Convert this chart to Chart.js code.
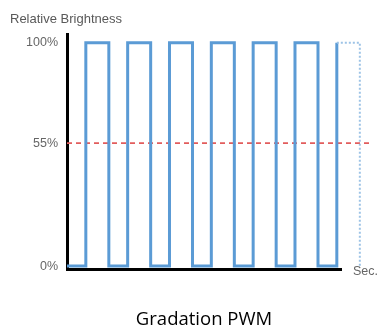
<!DOCTYPE html>
<html>
<head>
<meta charset="utf-8">
<script src="https://cdn.jsdelivr.net/npm/chart.js@4.4.1/dist/chart.umd.min.js"></script>
<style>
  html, body { margin: 0; padding: 0; background: #ffffff; }
  #wrap { width: 380px; height: 331px; }
</style>
</head>
<body>
<div id="wrap"><canvas id="c" width="380" height="331"></canvas></div>
<script>
// ---- data ----
const chartTitle = 'Relative Brightness';
const xAxisTitle = 'Gradation PWM';
const xUnitLabel = 'Sec.';
// edge times of the PWM signal (one period = 1 unit) and the level that starts at each edge
const edgeTimes  = [0, 0.45, 1, 1.45, 2, 2.45, 3, 3.45, 4, 4.45, 5, 5.45, 6, 6.45, 7];
const edgeLevels = [0, 100,  0, 100,  0, 100,  0, 100,  0, 100,  0, 100,  0, 100,  0];
// average brightness reference line
const averageTimes  = [0, 7.31];
const averageLevels = [55, 55];
// y-axis tick labels
const yTickValues = [0, 55, 100];

const pwmPoints = edgeTimes.map((t, i) => ({ x: t, y: edgeLevels[i] }));
const avgPoints = averageTimes.map((t, i) => ({ x: t, y: averageLevels[i] }));
const lastIndex = pwmPoints.length - 1;

const unitLabelPlugin = {
  id: 'unitLabel',
  afterDraw(chart) {
    const { ctx, chartArea } = chart;
    ctx.save();
    ctx.font = '12.5px "Liberation Sans", Arial, sans-serif';
    ctx.fillStyle = '#666666';
    ctx.textAlign = 'left';
    ctx.textBaseline = 'middle';
    ctx.fillText(xUnitLabel, chartArea.right + 12, chartArea.bottom + 3);
    ctx.restore();
  }
};

new Chart(document.getElementById('c'), {
  type: 'line',
  data: {
    datasets: [
      {
        label: 'PWM',
        data: pwmPoints,
        stepped: true,
        borderColor: '#5B9BD5',
        borderWidth: 3,
        pointRadius: 0,
        fill: false,
        clip: false,
        borderJoinStyle: 'miter',
        segment: {
          borderDash: ctx => ctx.p1DataIndex === lastIndex ? [2, 2] : undefined,
          borderColor: ctx => ctx.p1DataIndex === lastIndex ? '#9DC3E6' : undefined,
          borderWidth: ctx => ctx.p1DataIndex === lastIndex ? 2 : undefined
        }
      },
      {
        label: 'Average',
        data: avgPoints,
        borderColor: '#E25C5C',
        borderWidth: 1.8,
        borderDash: [5, 4],
        pointRadius: 0,
        fill: false,
        clip: false
      }
    ]
  },
  options: {
    responsive: false,
    animation: false,
    events: [],
    layout: { padding: { left: 10, right: 39, top: 0, bottom: 0 } },
    plugins: {
      legend: { display: false },
      tooltip: { enabled: false },
      title: {
        display: true,
        text: chartTitle,
        align: 'start',
        color: '#595959',
        font: { family: '"Liberation Sans", Arial, sans-serif', size: 13, weight: 'normal' },
        padding: { top: 12, bottom: 7 }
      }
    },
    scales: {
      x: {
        type: 'linear',
        min: 0,
        max: 6.55,
        grid: { display: false, drawTicks: false },
        border: { display: true, color: '#000000', width: 3 },
        ticks: { display: false },
        title: {
          display: true,
          text: xAxisTitle,
          color: '#000000',
          font: { family: '"Open Sans", sans-serif', size: 18.5 },
          padding: { top: 0, bottom: 0 }
        },
        afterFit(scale) { scale.height = 62; }
      },
      y: {
        type: 'linear',
        min: -1.3,
        max: 103.6,
        grid: { display: false, drawTicks: false },
        border: { display: true, color: '#000000', width: 3 },
        afterBuildTicks(scale) { scale.ticks = yTickValues.map(v => ({ value: v })); },
        ticks: {
          padding: 9,
          color: '#666666',
          font: { family: '"Liberation Sans", Arial, sans-serif', size: 12.5 },
          callback: v => v + '%'
        },
        afterFit(scale) { scale.width = 57; }
      }
    }
  },
  plugins: [unitLabelPlugin]
});
</script>
</body>
</html>
